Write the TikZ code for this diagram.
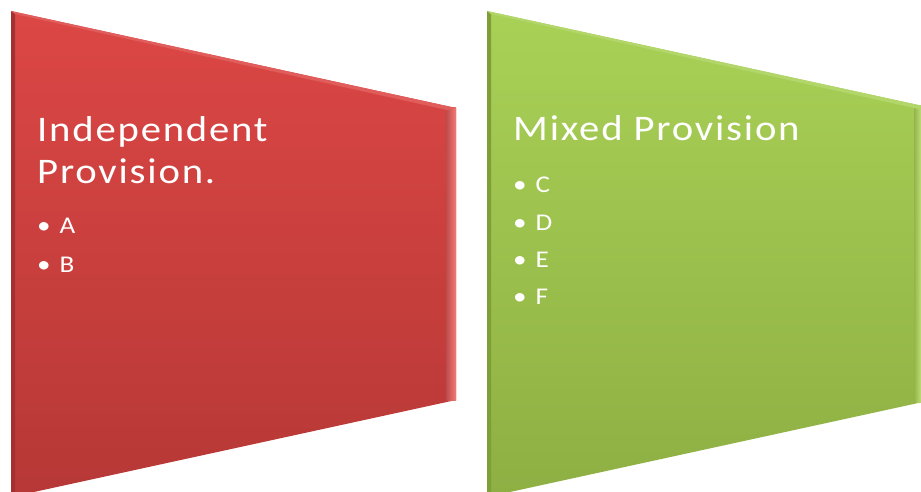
\documentclass[tikz,border=0pt]{standalone}
\usepackage{fontspec}
\setmainfont{Carlito}
\newfontfamily\widefont[FakeStretch=1.13,LetterSpace=5]{Carlito}
\newfontfamily\itemfont[FakeStretch=1.13]{Carlito}
\definecolor{redtop}{HTML}{DC4745}
\definecolor{redbot}{HTML}{B63836}
\definecolor{redleft}{HTML}{A53030}
\definecolor{redright}{HTML}{F57A78}
\definecolor{greentop}{HTML}{A9D156}
\definecolor{greenbot}{HTML}{8EAF43}
\definecolor{greenleft}{HTML}{7E9E38}
\definecolor{greenright}{HTML}{C2E47A}
\tikzset{
  title/.style={anchor=base west, inner sep=0pt, text=white, font=\widefont\fontsize{36}{41}\selectfont},
  item/.style={anchor=base west, inner sep=0pt, text=white, font=\itemfont\fontsize{24}{28}\selectfont},
}
\begin{document}
\begin{tikzpicture}[x=1pt,y=-1pt]
\useasboundingbox (0,0) rectangle (921,492);
\clip (0,0) rectangle (921,492);
% red trapezoid
\shade[top color=redtop, bottom color=redbot] (11,11) -- (456,108) -- (456,400) -- (11,497) -- cycle;
\fill[redleft] (11,11) -- (15,14) -- (15,494) -- (11,497) -- cycle;
\shade[left color=redbot!90!white, right color=redright] (446,108) -- (456,108) -- (456,400) -- (446,400) -- cycle;
\fill[redtop!88!white] (11,11) -- (456,108) -- (447,110) -- (15,14) -- cycle;
% green trapezoid
\shade[top color=greentop, bottom color=greenbot] (487,11) -- (932,108) -- (932,400) -- (487,497) -- cycle;
\fill[greenleft] (487,11) -- (491,14) -- (491,494) -- (487,497) -- cycle;
\shade[left color=greenbot!95!white, right color=greenright] (914,106) -- (922,106) -- (922,402) -- (914,402) -- cycle;
\fill[greentop!88!white] (487,11) -- (932,108) -- (923,110) -- (491,14) -- cycle;
% text
\node[title] (t1a) at (37,142) {Independent};
\node[title] (t1b) at (37,183) {Provision.};
\node[item] (ia) at (37,233) {•\hspace{9pt}A};
\node[item] (ib) at (37,272) {•\hspace{9pt}B};
\node[title] (t2) at (513,141) {Mixed Provision};
\node[item] (ic) at (513,193) {•\hspace{9pt}C};
\node[item] (id) at (513,230) {•\hspace{9pt}D};
\node[item] (ie) at (513,267) {•\hspace{9pt}E};
\node[item] (if) at (513,304) {•\hspace{9pt}F};
\end{tikzpicture}
\end{document}
